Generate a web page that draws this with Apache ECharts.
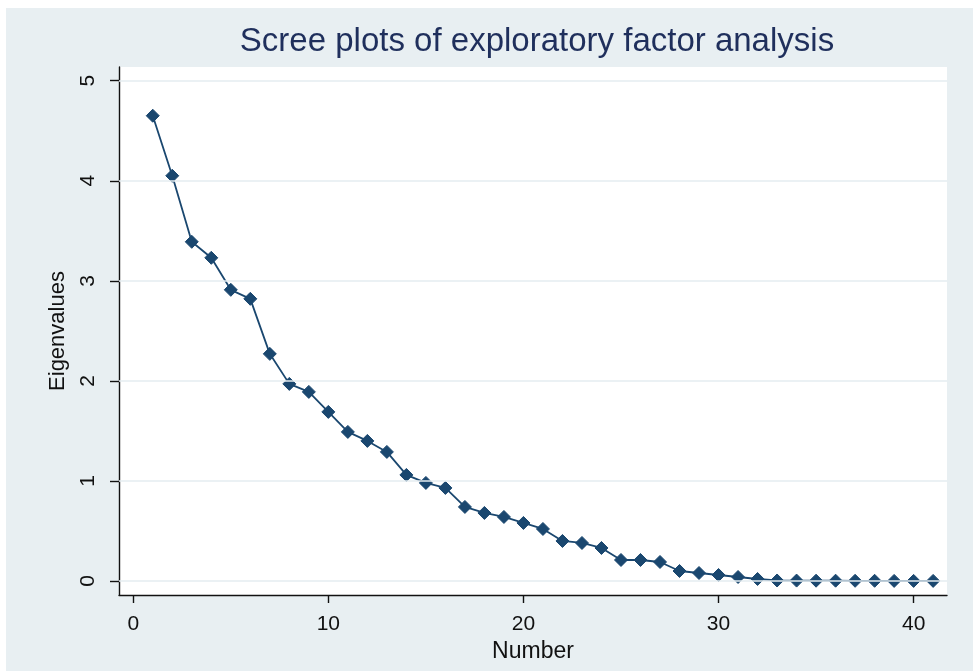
<!DOCTYPE html>
<html>
<head>
<meta charset="utf-8">
<script src="https://cdn.jsdelivr.net/npm/echarts@6/dist/echarts.min.js"></script>
<style>
html, body { margin: 0; padding: 0; background: #ffffff; }
#chart { width: 973px; height: 671px; }
</style>
</head>
<body>
<div id="chart"></div>
<script>
// ---- data ----
const titleText = 'Scree plots of exploratory factor analysis';
const xName = 'Number';
const yName = 'Eigenvalues';
const factorNumbers = [1, 2, 3, 4, 5, 6, 7, 8, 9, 10, 11, 12, 13, 14, 15, 16, 17, 18, 19, 20,
  21, 22, 23, 24, 25, 26, 27, 28, 29, 30, 31, 32, 33, 34, 35, 36, 37, 38, 39, 40, 41];
const eigenvalues = [4.65, 4.05, 3.39, 3.23, 2.91, 2.82, 2.27, 1.97, 1.89, 1.69,
  1.49, 1.40, 1.29, 1.06, 0.98, 0.93, 0.74, 0.68, 0.64, 0.58,
  0.52, 0.40, 0.38, 0.33, 0.21, 0.21, 0.19, 0.10, 0.08, 0.06,
  0.04, 0.02, 0.005, 0.004, 0.003, 0.003, 0.002, 0.002, 0.001, 0.001, 0.001];
const xTicks = [0, 10, 20, 30, 40];
const yTicks = [0, 1, 2, 3, 4, 5];

// ---- chart ----
const chart = echarts.init(document.getElementById('chart'), null, { renderer: 'canvas' });
const seriesData = factorNumbers.map((n, i) => [n, eigenvalues[i]]);
const font = '"Liberation Sans", Arial, sans-serif';

const option = {
  backgroundColor: '#ffffff',
  animation: false,
  graphic: [{
    type: 'rect', silent: true, z: -10,
    shape: { x: 6, y: 8, width: 967, height: 663 },
    style: { fill: '#e8eff2' }
  }],
  title: {
    text: titleText,
    left: 532,
    top: 20,
    textAlign: 'center',
    textStyle: { fontFamily: font, fontSize: 33, fontWeight: 'normal', color: '#1f2f5c' }
  },
  grid: {
    left: 119, right: 26, top: 67, bottom: 76,
    show: true, backgroundColor: '#ffffff', borderWidth: 0, containLabel: false
  },
  xAxis: {
    type: 'value',
    min: -0.73, max: 41.71,
    name: xName,
    nameLocation: 'middle',
    nameGap: 35,
    nameTextStyle: { fontFamily: font, fontSize: 23, color: '#111' },
    axisLine: { show: true, onZero: false, lineStyle: { color: '#111', width: 1.4 } },
    axisTick: { show: true, customValues: xTicks, length: 8, lineStyle: { color: '#111', width: 1.4 } },
    axisLabel: { customValues: xTicks, fontFamily: font, fontSize: 21, color: '#111', margin: 19 },
    splitLine: { show: false }
  },
  yAxis: {
    type: 'value',
    min: -0.14, max: 5.137,
    name: yName,
    nameLocation: 'middle',
    nameGap: 50,
    nameRotate: 90,
    nameTextStyle: { fontFamily: font, fontSize: 22, color: '#111' },
    axisLine: { show: true, onZero: false, lineStyle: { color: '#111', width: 1.4 } },
    axisTick: { show: true, customValues: yTicks, length: 9, lineStyle: { color: '#111', width: 1.4 } },
    axisLabel: { customValues: yTicks, rotate: 90, fontFamily: font, fontSize: 21, color: '#111', margin: 20 },
    splitLine: { show: false }
  },
  series: [
    {
      type: 'line',
      data: [],
      z: 1,
      silent: true,
      markLine: {
        silent: true,
        symbol: ['none', 'none'],
        label: { show: false },
        lineStyle: { color: '#e4edf0', width: 1.6, type: 'solid' },
        data: yTicks.map(v => ({ yAxis: v }))
      }
    },
    {
      type: 'line',
      data: seriesData,
      z: 3,
      symbol: 'diamond',
      symbolSize: [13, 13],
      showSymbol: true,
      lineStyle: { color: '#1a476f', width: 1.8 },
      itemStyle: { color: '#1a476f', borderColor: '#1a476f', borderWidth: 1 }
    }
  ]
};
chart.setOption(option);
</script>
</body>
</html>
